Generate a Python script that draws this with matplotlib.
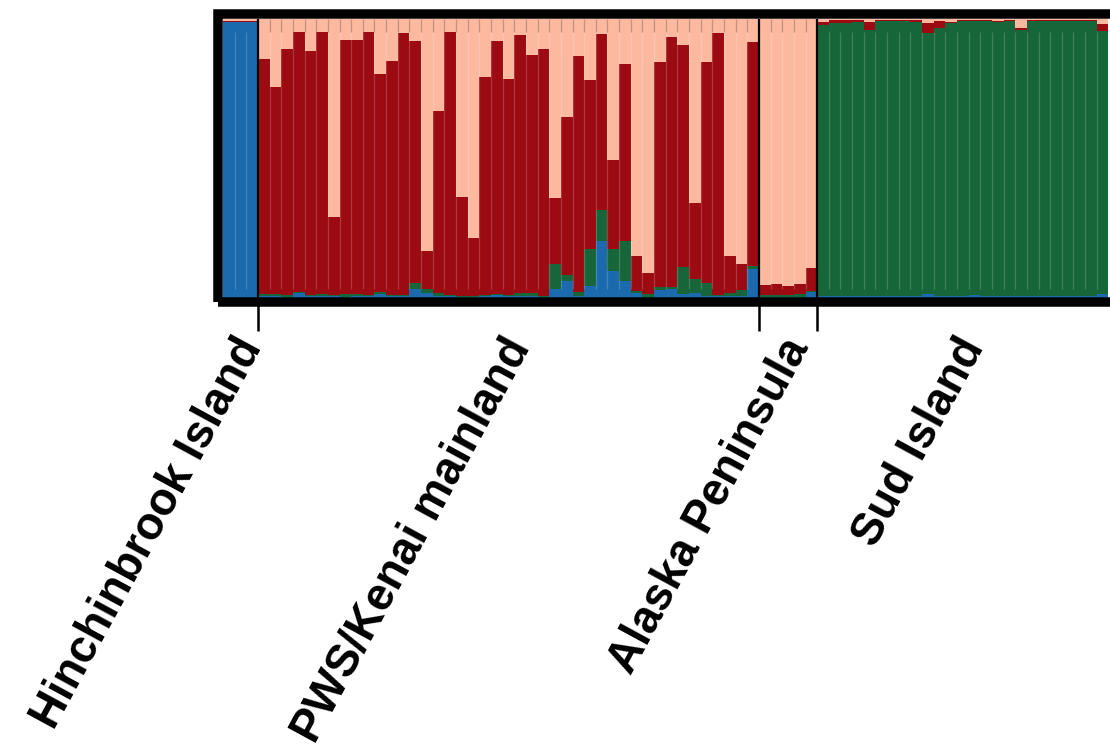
import numpy as np
import matplotlib
matplotlib.use("Agg")
import matplotlib.pyplot as plt
from matplotlib.patches import Rectangle
from matplotlib.transforms import blended_transform_factory, offset_copy

# Sampling locations and number of individuals in each
populations = ["Hinchinbrook Island", "PWS/Kenai mainland", "Alaska Peninsula", "Sud Island"]
pop_sizes = [3, 43, 5, 25]

# Ancestry proportions (K = 4) for each individual, in plotting order
cluster_blue = [
    0.990, 0.990, 0.990,
    0.004, 0.006, 0.003, 0.015, 0.005, 0.004, 0.004, 0.003, 0.005, 0.004,
    0.011, 0.006, 0.004, 0.032, 0.015, 0.005, 0.006, 0.003, 0.003, 0.004,
    0.010, 0.004, 0.006, 0.004, 0.002, 0.031, 0.060, 0.005, 0.043, 0.203,
    0.094, 0.060, 0.017, 0.003, 0.026, 0.029, 0.014, 0.017, 0.007, 0.005,
    0.005, 0.006, 0.101,
    0.003, 0.003, 0.003, 0.003, 0.018,
    0.005, 0.004, 0.004, 0.004, 0.006, 0.004, 0.004, 0.004, 0.004, 0.012,
    0.005, 0.004, 0.004, 0.008, 0.004, 0.005, 0.006, 0.005, 0.004, 0.004,
    0.005, 0.004, 0.004, 0.006, 0.012,
]
cluster_green = [
    0.000, 0.000, 0.000,
    0.008, 0.006, 0.006, 0.006, 0.005, 0.008, 0.005, 0.008, 0.008, 0.006,
    0.010, 0.004, 0.004, 0.020, 0.015, 0.012, 0.004, 0.003, 0.004, 0.004,
    0.004, 0.004, 0.010, 0.012, 0.004, 0.089, 0.019, 0.016, 0.130, 0.112,
    0.079, 0.143, 0.006, 0.008, 0.012, 0.010, 0.094, 0.048, 0.046, 0.005,
    0.010, 0.020, 0.012,
    0.006, 0.005, 0.005, 0.010, 0.004,
    0.975, 0.982, 0.981, 0.987, 0.954, 0.989, 0.989, 0.988, 0.987, 0.939,
    0.962, 0.983, 0.988, 0.984, 0.989, 0.985, 0.987, 0.954, 0.989, 0.990,
    0.989, 0.990, 0.990, 0.986, 0.945,
]
cluster_red = [
    0.004, 0.004, 0.004,
    0.846, 0.744, 0.885, 0.931, 0.875, 0.940, 0.280, 0.914, 0.912, 0.942,
    0.783, 0.840, 0.942, 0.870, 0.137, 0.652, 0.945, 0.356, 0.207, 0.785,
    0.907, 0.778, 0.927, 0.855, 0.888, 0.239, 0.568, 0.847, 0.608, 0.631,
    0.322, 0.637, 0.127, 0.077, 0.806, 0.895, 0.799, 0.275, 0.794, 0.938,
    0.135, 0.095, 0.806,
    0.035, 0.040, 0.035, 0.035, 0.085,
    0.010, 0.010, 0.012, 0.006, 0.030, 0.004, 0.004, 0.005, 0.006, 0.036,
    0.026, 0.003, 0.003, 0.003, 0.003, 0.003, 0.004, 0.010, 0.003, 0.003,
    0.003, 0.003, 0.003, 0.003, 0.026,
]
cluster_pink = [
    0.006, 0.006, 0.006,
    0.142, 0.244, 0.106, 0.048, 0.115, 0.048, 0.711, 0.075, 0.075, 0.048,
    0.196, 0.150, 0.050, 0.078, 0.833, 0.331, 0.045, 0.638, 0.786, 0.207,
    0.079, 0.214, 0.057, 0.129, 0.106, 0.641, 0.353, 0.132, 0.219, 0.054,
    0.505, 0.160, 0.850, 0.912, 0.156, 0.066, 0.093, 0.660, 0.153, 0.052,
    0.850, 0.879, 0.081,
    0.956, 0.952, 0.957, 0.952, 0.893,
    0.010, 0.004, 0.003, 0.003, 0.010, 0.003, 0.003, 0.003, 0.003, 0.013,
    0.007, 0.010, 0.005, 0.005, 0.004, 0.007, 0.003, 0.031, 0.004, 0.003,
    0.003, 0.003, 0.003, 0.005, 0.017,
]

clusters = [cluster_blue, cluster_green, cluster_red, cluster_pink]
cluster_colors = ["#1b6aad", "#17663a", "#9c0a12", "#fcb9a0"]

W, H, DPI = 1110, 753, 100
fig = plt.figure(figsize=(W / DPI, H / DPI), dpi=DPI)

# axes interior in pixel coordinates (x from left, y from top)
left_px, right_px = 223.0, 1108.4
top_px, bottom_px = 19.0, 297.5
ax = fig.add_axes([left_px / W, (H - bottom_px) / H,
                   (right_px - left_px) / W, (bottom_px - top_px) / H])

n = len(cluster_blue)
x = np.arange(n)
bottom = np.zeros(n)
for vals, col in zip(clusters, cluster_colors):
    vals = np.asarray(vals)
    ax.bar(x, vals, width=1.0, bottom=bottom, color=col, linewidth=0, align="edge")
    bottom += vals

ax.set_xlim(0, n)
ax.set_ylim(0, 1)

# faint separators between individuals
for b in range(1, n):
    ax.plot([b, b], [0.03, 0.955], color="white", alpha=0.18, lw=0.9, solid_capstyle="butt")

# darker separator stubs along the top of the mainland / peninsula samples
edges = np.cumsum([0] + pop_sizes)
for b in range(edges[1] + 1, edges[3]):
    if b == edges[2]:
        continue
    ax.plot([b, b], [0.955, 1.0], color="#a88478", alpha=0.7, lw=0.9, solid_capstyle="butt")

# population boundaries
for b in edges[1:-1]:
    ax.axvline(b, color="black", lw=1.6)

for sp in ax.spines.values():
    sp.set_visible(False)
ax.set_yticks([])

# ticks mark the population boundaries
ax.set_xticks(edges[1:-1])
ax.set_xticklabels([])
ax.tick_params(axis="x", length=23.5, width=1.8, direction="out", color="black")

# thick frame drawn just outside the plotting area
lw_px = 9.5
frame = Rectangle(((left_px - lw_px / 2) / W, (H - bottom_px - lw_px / 2) / H),
                  (right_px - left_px + lw_px) / W, (bottom_px - top_px + lw_px) / H,
                  transform=fig.transFigure, fill=False, edgecolor="black",
                  linewidth=lw_px * 72 / DPI, joinstyle="miter", zorder=10)
fig.patches.append(frame)

# population names centred under each group
trans = blended_transform_factory(ax.transData, ax.transAxes)
trans = offset_copy(trans, fig=fig, x=-8, y=6, units="dots")
centers = (edges[:-1] + edges[1:]) / 2
for name, cx in zip(populations, centers):
    ax.text(cx, -0.14, name, transform=trans, rotation=61.5, rotation_mode="anchor",
            ha="right", va="top", fontsize=32.8, fontweight="bold",
            family="Liberation Sans", color="black")

fig.savefig("out.png", dpi=DPI)
